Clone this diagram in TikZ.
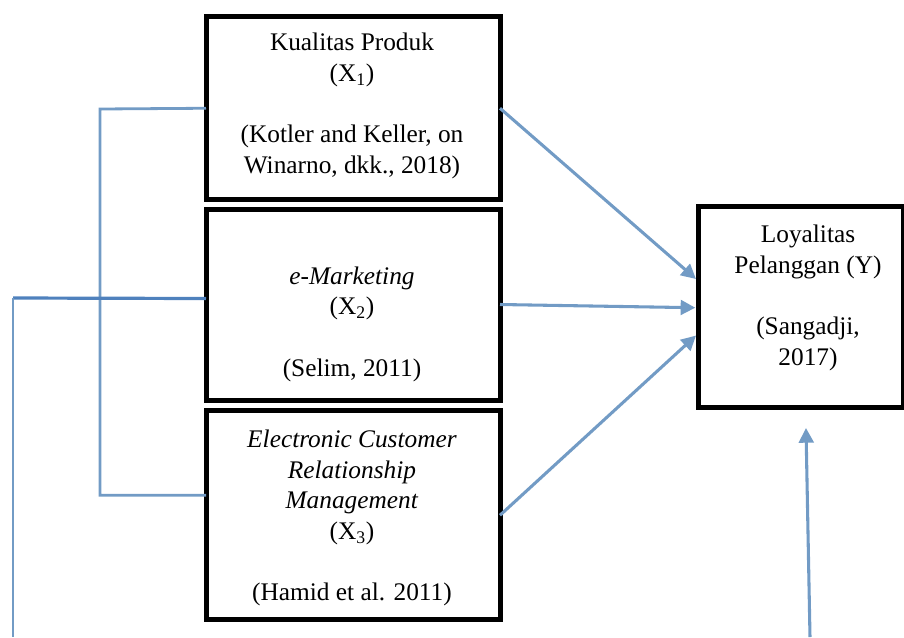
\documentclass[tikz,border=0pt]{standalone}
\usepackage{fontspec}
\setmainfont{Liberation Serif}
\usetikzlibrary{arrows.meta,calc}
\definecolor{lineblue}{RGB}{114,155,197}
\definecolor{darkblue}{RGB}{79,129,189}
\begin{document}
\begin{tikzpicture}[x=0.75pt,y=-0.75pt,
 box/.style={draw=black, line width=3.75pt, inner sep=0pt, outer sep=0pt},
 txt/.style={align=center, font=\fontsize{19}{23}\selectfont, inner sep=0pt},
 link/.style={draw=lineblue, line width=2.1pt},
 darklink/.style={draw=darkblue, line width=2.4pt},
 arr/.style={draw=lineblue, line width=2.3pt, -{Triangle[length=11pt,width=11pt]}, shorten >=2pt},
]
\useasboundingbox (0,0) rectangle (904,637);
% boxes
\node[box, minimum width=220.5pt, minimum height=136.9pt] (b1) at (353,108.25) {};
\node[box, minimum width=220.5pt, minimum height=143.25pt] (b2) at (353,304.5) {};
\node[box, minimum width=220.5pt, minimum height=157.1pt] (b3) at (353,515.25) {};
\node[box, minimum width=153.75pt, minimum height=150.4pt] (b4) at (800.5,306.75) {};
% texts
\node[txt] (t1) at (352,106) {Kualitas Produk\\(X\textsubscript{1})\\\mbox{}\\(Kotler and Keller, on\\Winarno, dkk., 2018)};
\node[txt] (t2) at (352,324) {\textit{e-Marketing}\\(X\textsubscript{2})\\\mbox{}\\(Selim, 2011)};
\node[txt] (t3) at (352,518) {\textit{Electronic Customer}\\\textit{Relationship}\\\textit{Management}\\(X\textsubscript{3})\\\mbox{}\\(Hamid et al. 2011)};
\node[txt] (t4) at (808,298) {Loyalitas\\Pelanggan (Y)\\\mbox{}\\(Sangadji,\\2017)};
% left connectors
\coordinate (j1) at (100,109);
\draw[link] (b1.west) -- (j1) |- ($(b3.west)+(0,-20)$);
\coordinate (c2) at (13,298);
\coordinate (j2) at (13,637);
\draw[darklink] ($(b2.west)+(0,-6)$) -- (c2);
\draw[link] (c2) -- (j2);
% arrows
\draw[arr] (b1.east) -- ($(b4.west)+(0,-26)$);
\draw[arr] (b2.east) -- ($(b4.west)+(0,1)$);
\draw[arr] (b3.east) -- ($(b4.west)+(0,27)$);
\coordinate (bot) at (810,637);
\draw[arr, shorten >=0pt] (bot) -- ($(b4.south)+(5.5,21)$);
\end{tikzpicture}
\end{document}
